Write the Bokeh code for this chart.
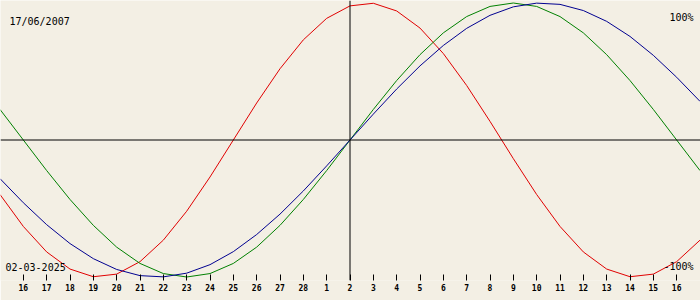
from bokeh.plotting import figure
from bokeh.models import Range1d, LinearAxis, FixedTicker, Span, Label
from bokeh.embed import file_html
from bokeh.resources import INLINE

# ---- data ----
BIRTH_DATE = "17/06/2007"
CHART_DATE = "02-03-2025"
TOP_TEXT = "100%"
BOTTOM_TEXT = "-100%"

DAYS = list(range(-15, 16))  # day offsets from 2 March 2025

PHYSICAL = [-0.398, -0.631, -0.817, -0.942, -0.998, -0.979, -0.888, -0.731,
            -0.520, -0.270, 0.000, 0.270, 0.520, 0.731, 0.888, 0.979, 0.998,
            0.942, 0.817, 0.631, 0.398, 0.136, -0.136, -0.398, -0.631, -0.817,
            -0.942, -0.998, -0.979, -0.888, -0.731]
EMOTIONAL = [0.223, 0.000, -0.223, -0.434, -0.623, -0.782, -0.901, -0.975,
             -1.000, -0.975, -0.901, -0.782, -0.623, -0.434, -0.223, 0.000,
             0.223, 0.434, 0.623, 0.782, 0.901, 0.975, 1.000, 0.975, 0.901,
             0.782, 0.623, 0.434, 0.223, 0.000, -0.223]
INTELLECTUAL = [-0.282, -0.458, -0.618, -0.756, -0.866, -0.945, -0.990, -0.999,
                -0.972, -0.910, -0.815, -0.690, -0.541, -0.372, -0.189, 0.000,
                0.189, 0.372, 0.541, 0.690, 0.815, 0.910, 0.972, 0.999, 0.990,
                0.945, 0.866, 0.756, 0.618, 0.458, 0.282]

TICK_DAYS = list(range(-14, 15))
TICK_LABELS = ["16", "17", "18", "19", "20", "21", "22", "23", "24", "25", "26",
               "27", "28", "1", "2", "3", "4", "5", "6", "7", "8", "9", "10",
               "11", "12", "13", "14", "15", "16"]

# ---- layout / style ----
BG = "#f3efe4"
W, FH = 700, 280
PX_PER_DAY = 700 / 30.0
X0 = 349.5            # pixel column of day 0
Y0, AMP = 139.5, 137.0  # pixel row of value 0, pixels per unit

x_lo = -X0 / PX_PER_DAY
x_hi = (W - X0) / PX_PER_DAY
y_hi = Y0 / AMP
y_lo = (Y0 - FH) / AMP


def px_x(px):
    return x_lo + px / PX_PER_DAY


def px_y(py):
    return y_hi - py / AMP


p = figure(frame_width=W, frame_height=FH, min_border=0, min_border_bottom=20,
           x_range=Range1d(x_lo, x_hi), y_range=Range1d(y_lo, y_hi),
           x_axis_type=None, y_axis_type=None,
           output_backend="svg", toolbar_location=None,
           background_fill_color=BG, border_fill_color=BG,
           outline_line_color=None)
p.grid.visible = False

xaxis = LinearAxis(ticker=FixedTicker(ticks=TICK_DAYS),
                   major_label_overrides={d: l for d, l in zip(TICK_DAYS, TICK_LABELS)})
xaxis.axis_line_color = None
xaxis.major_tick_in = 6
xaxis.major_tick_out = 0
xaxis.major_tick_line_color = "black"
xaxis.minor_tick_line_color = None
xaxis.major_label_standoff = 3
xaxis.major_label_text_font = "DejaVu Sans Mono"
xaxis.major_label_text_font_size = "8px"
xaxis.major_label_text_font_style = "bold"
xaxis.major_label_text_color = "black"
p.add_layout(xaxis, "below")

p.add_layout(Span(location=0, dimension="width", line_color="black", line_width=1))
p.add_layout(Span(location=0, dimension="height", line_color="black", line_width=1))

p.line(DAYS, PHYSICAL, line_color="#e00000", line_width=1)
p.line(DAYS, EMOTIONAL, line_color="#008000", line_width=1)
p.line(DAYS, INTELLECTUAL, line_color="#000090", line_width=1)

font = "DejaVu Sans Mono"
for txt, x, y, align in [(BIRTH_DATE, 9, 21, "left"),
                         (TOP_TEXT, 693, 17, "right"),
                         (CHART_DATE, 5, 266, "left"),
                         (BOTTOM_TEXT, 693, 266, "right")]:
    p.add_layout(Label(x=px_x(x), y=px_y(y), text=txt, text_align=align,
                       text_baseline="alphabetic", text_font=font,
                       text_font_size="10px", text_color="black"))

open("out.html", "w").write(file_html(p, INLINE))
